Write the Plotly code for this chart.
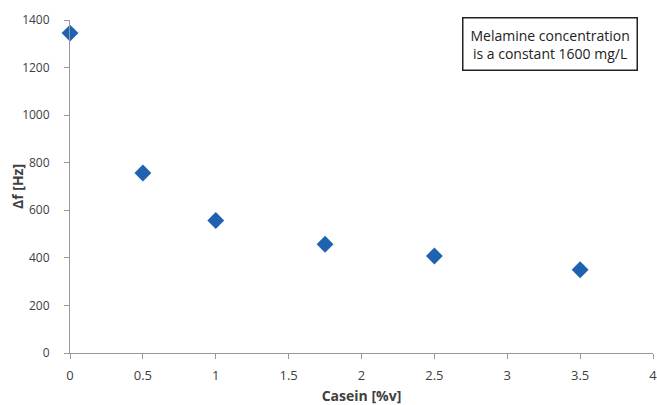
import plotly.graph_objects as go

casein = [0, 0.5, 1, 1.75, 2.5, 3.5]
delta_f = [1345, 757, 557, 457, 408, 350]
x_ticks = [0, 0.5, 1, 1.5, 2, 2.5, 3, 3.5, 4]
x_tick_labels = ["0", "0.5", "1", "1.5", "2", "2.5", "3", "3.5", "4"]
y_ticks = [0, 200, 400, 600, 800, 1000, 1200, 1400]

fig = go.Figure()
fig.add_trace(go.Scatter(
    x=casein, y=delta_f, mode="markers",
    marker=dict(symbol="diamond", size=13, color="#1f63b0"),
    showlegend=False, cliponaxis=False,
))

font = dict(family="Open Sans, Liberation Sans, sans-serif", size=12, color="#404040")
fig.update_layout(
    width=657, height=405,
    margin=dict(l=70, r=0, t=20, b=52),
    plot_bgcolor="white", paper_bgcolor="white",
    font=font,
    xaxis=dict(range=[0, 4], tickvals=x_ticks, ticktext=x_tick_labels,
               showgrid=False, zeroline=False, showline=True, linecolor="#999999",
               linewidth=1, ticks="outside", ticklen=5, tickcolor="#999999",
               ticklabelstandoff=5, ticklabeloverflow="allow",
               title=dict(text="<b>Casein [%v]</b>", standoff=8, font=dict(size=14)),
               tickfont=dict(size=13)),
    yaxis=dict(range=[0, 1400], tickvals=y_ticks, showgrid=False, zeroline=False,
               showline=True, linecolor="#999999", linewidth=1, ticks="outside",
               ticklen=5, tickcolor="#999999", ticklabelstandoff=12,
               tickfont=dict(size=12)),
)
fig.add_annotation(
    xref="paper", yref="paper", x=-0.09, y=0.5, xanchor="center", yanchor="middle",
    text="<b>Δf [Hz]</b>", textangle=-90, showarrow=False,
    font=dict(size=14, color="#404040"),
)
fig.add_annotation(
    xref="paper", yref="paper", x=0.824, y=0.928, xanchor="center", yanchor="middle",
    text="Melamine concentration<br>is a constant 1600 mg/L",
    showarrow=False, bordercolor="#222222", borderwidth=1.5, borderpad=7,
    bgcolor="white", font=dict(size=14, color="#222222"), align="center",
)
fig.write_html("out.html")
